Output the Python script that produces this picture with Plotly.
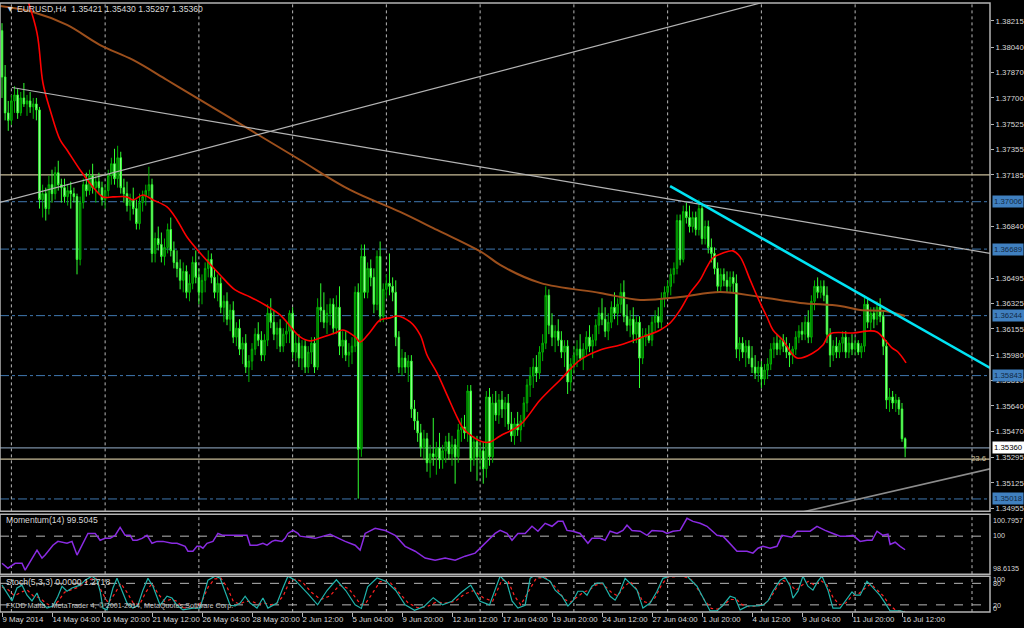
import plotly.graph_objects as go

# ---------------- data ----------------
opens = [1.3815,1.3784,1.3760,1.3755,1.3768,1.3772,1.3760,1.3770,1.3766,1.3768,1.3764,1.3766,1.3762,1.3702,1.3706,1.3696,1.3712,1.3706,1.3720,1.3712,
1.3710,1.3704,1.3708,1.3706,1.3704,1.3662,1.3700,1.3712,1.3708,1.3718,1.3710,1.3714,1.3710,1.3702,1.3708,1.3718,1.3726,1.3716,1.3730,1.3710,
1.3706,1.3698,1.3702,1.3696,1.3686,1.3700,1.3704,1.3708,1.3712,1.3666,1.3676,1.3672,1.3664,1.3670,1.3682,1.3668,1.3660,1.3656,1.3648,1.3654,
1.3640,1.3646,1.3660,1.3650,1.3640,1.3648,1.3656,1.3662,1.3650,1.3640,1.3646,1.3630,1.3634,1.3622,1.3628,1.3610,1.3616,1.3602,1.3606,1.3590,
1.3594,1.3602,1.3612,1.3608,1.3598,1.3608,1.3626,1.3620,1.3612,1.3616,1.3604,1.3612,1.3614,1.3626,1.3600,1.3606,1.3596,1.3604,1.3590,1.3600,
1.3606,1.3590,1.3630,1.3628,1.3620,1.3626,1.3632,1.3616,1.3630,1.3604,1.3608,1.3598,1.3600,1.3604,1.3640,1.3535,1.3664,1.3640,1.3656,1.3650,
1.3632,1.3664,1.3624,1.3642,1.3646,1.3644,1.3640,1.3610,1.3590,1.3596,1.3590,1.3594,1.3562,1.3554,1.3546,1.3536,1.3542,1.3526,1.3532,1.3530,
1.3536,1.3528,1.3534,1.3540,1.3532,1.3538,1.3530,1.3548,1.3550,1.3546,1.3574,1.3528,1.3540,1.3530,1.3534,1.3522,1.3570,1.3530,1.3566,1.3558,
1.3568,1.3562,1.3566,1.3552,1.3544,1.3552,1.3548,1.3554,1.3566,1.3578,1.3584,1.3590,1.3586,1.3600,1.3606,1.3638,1.3618,1.3610,1.3614,1.3608,
1.3600,1.3604,1.3580,1.3592,1.3598,1.3602,1.3596,1.3602,1.3610,1.3604,1.3608,1.3618,1.3626,1.3622,1.3614,1.3620,1.3630,1.3626,1.3632,1.3640,
1.3624,1.3618,1.3622,1.3612,1.3620,1.3596,1.3610,1.3612,1.3608,1.3620,1.3624,1.3620,1.3636,1.3640,1.3644,1.3652,1.3656,1.3688,1.3662,1.3694,
1.3690,1.3684,1.3690,1.3682,1.3696,1.3676,1.3684,1.3670,1.3666,1.3656,1.3644,1.3652,1.3648,1.3644,1.3650,1.3646,1.3602,1.3606,1.3600,1.3604,
1.3596,1.3590,1.3586,1.3590,1.3582,1.3588,1.3592,1.3602,1.3606,1.3602,1.3608,1.3604,1.3600,1.3598,1.3602,1.3610,1.3614,1.3612,1.3620,1.3610,
1.3634,1.3644,1.3640,1.3644,1.3638,1.3612,1.3598,1.3604,1.3600,1.3606,1.3610,1.3600,1.3606,1.3602,1.3606,1.3600,1.3604,1.3632,1.3620,1.3626,
1.3622,1.3630,1.3624,1.3604,1.3568,1.3570,1.3566,1.3568,1.3562,1.35421]
highs = [1.3820,1.3792,1.3768,1.3772,1.3778,1.3776,1.3774,1.3780,1.3772,1.3774,1.3770,1.3770,1.3764,1.3712,1.3710,1.3718,1.3722,1.3724,1.3728,1.3716,
1.3716,1.3712,1.3714,1.3710,1.3706,1.3704,1.3716,1.3720,1.3722,1.3726,1.3718,1.3720,1.3714,1.3712,1.3722,1.3730,1.3736,1.3738,1.3734,1.3716,
1.3714,1.3706,1.3710,1.3702,1.3706,1.3708,1.3712,1.3724,1.3716,1.3680,1.3684,1.3680,1.3676,1.3686,1.3690,1.3674,1.3668,1.3662,1.3660,1.3658,
1.3652,1.3664,1.3668,1.3656,1.3652,1.3660,1.3668,1.3666,1.3656,1.3652,1.3650,1.3638,1.3640,1.3632,1.3634,1.3620,1.3622,1.3610,1.3612,1.3598,
1.3606,1.3616,1.3620,1.3614,1.3612,1.3632,1.3636,1.3628,1.3620,1.3622,1.3616,1.3620,1.3628,1.3630,1.3612,1.3612,1.3608,1.3608,1.3604,1.3610,
1.3610,1.3636,1.3646,1.3640,1.3632,1.3636,1.3636,1.3638,1.3644,1.3614,1.3614,1.3606,1.3610,1.3644,1.3646,1.3672,1.3672,1.3660,1.3662,1.3656,
1.3668,1.3674,1.3646,1.3652,1.3666,1.3650,1.3648,1.3614,1.3602,1.3600,1.3598,1.3598,1.3568,1.3560,1.3552,1.3548,1.3546,1.3538,1.3556,1.3540,
1.3546,1.3538,1.3544,1.3546,1.3544,1.3542,1.3552,1.3556,1.3558,1.3578,1.3578,1.3544,1.3544,1.3540,1.3540,1.3574,1.3576,1.3572,1.3574,1.3572,
1.3574,1.3570,1.3572,1.3560,1.3556,1.3560,1.3558,1.3570,1.3582,1.3590,1.3596,1.3598,1.3604,1.3612,1.3644,1.3642,1.3626,1.3618,1.3622,1.3614,
1.3608,1.3608,1.3596,1.3604,1.3608,1.3612,1.3606,1.3614,1.3618,1.3612,1.3622,1.3630,1.3636,1.3630,1.3626,1.3634,1.3640,1.3636,1.3646,1.3648,
1.3632,1.3628,1.3630,1.3624,1.3624,1.3616,1.3616,1.3618,1.3624,1.3628,1.3630,1.3640,1.3644,1.3648,1.3656,1.3660,1.3692,1.3692,1.3698,1.3700,
1.3698,1.3694,1.3694,1.3702,1.3698,1.3688,1.3688,1.3676,1.3670,1.3660,1.3656,1.3656,1.3654,1.3654,1.3654,1.3652,1.3610,1.3610,1.3608,1.3608,
1.3604,1.3598,1.3594,1.3594,1.3592,1.3596,1.3606,1.3610,1.3612,1.3610,1.3612,1.3610,1.3606,1.3604,1.3614,1.3618,1.3620,1.3624,1.3628,1.3638,
1.3648,1.3650,1.3648,1.3648,1.3644,1.3616,1.3608,1.3610,1.3608,1.3614,1.3614,1.3610,1.3612,1.3610,1.3608,1.3606,1.3638,1.3636,1.3630,1.3630,
1.3634,1.3636,1.3628,1.3608,1.3576,1.3574,1.3572,1.3570,1.3566,1.35430]
lows = [1.3770,1.3755,1.3748,1.3752,1.3760,1.3756,1.3758,1.3764,1.3758,1.3760,1.3756,1.3755,1.3696,1.3690,1.3688,1.3692,1.3700,1.3702,1.3708,1.3700,
1.3700,1.3698,1.3696,1.3700,1.3652,1.3658,1.3696,1.3704,1.3705,1.3706,1.3700,1.3706,1.3698,1.3696,1.3704,1.3712,1.3712,1.3710,1.3706,1.3700,
1.3694,1.3688,1.3692,1.3682,1.3682,1.3694,1.3698,1.3704,1.3660,1.3660,1.3668,1.3660,1.3658,1.3666,1.3664,1.3656,1.3650,1.3642,1.3640,1.3636,
1.3634,1.3642,1.3646,1.3632,1.3632,1.3640,1.3650,1.3646,1.3636,1.3634,1.3626,1.3620,1.3618,1.3614,1.3606,1.3604,1.3598,1.3592,1.3586,1.3580,
1.3588,1.3598,1.3604,1.3594,1.3594,1.3604,1.3616,1.3608,1.3602,1.3600,1.3600,1.3606,1.3606,1.3596,1.3594,1.3590,1.3588,1.3586,1.3586,1.3592,
1.3586,1.3588,1.3620,1.3616,1.3612,1.3618,1.3612,1.3612,1.3598,1.3596,1.3594,1.3590,1.3592,1.3600,1.3502,1.3530,1.3636,1.3636,1.3644,1.3626,
1.3628,1.3620,1.3620,1.3636,1.3638,1.3634,1.3604,1.3586,1.3584,1.3586,1.3580,1.3556,1.3548,1.3540,1.3530,1.3528,1.3520,1.3516,1.3524,1.3518,
1.3522,1.3522,1.3526,1.3528,1.3524,1.3512,1.3526,1.3540,1.3542,1.3540,1.3520,1.3524,1.3514,1.3522,1.3512,1.3516,1.3524,1.3526,1.3554,1.3552,
1.3556,1.3550,1.3548,1.3540,1.3538,1.3544,1.3540,1.3550,1.3560,1.3570,1.3576,1.3580,1.3582,1.3594,1.3602,1.3612,1.3604,1.3600,1.3604,1.3596,
1.3590,1.3572,1.3574,1.3586,1.3590,1.3594,1.3588,1.3598,1.3600,1.3596,1.3604,1.3612,1.3618,1.3610,1.3608,1.3616,1.3622,1.3618,1.3626,1.3620,
1.3614,1.3610,1.3606,1.3606,1.3576,1.3592,1.3604,1.3606,1.3604,1.3614,1.3616,1.3616,1.3630,1.3636,1.3638,1.3646,1.3652,1.3658,1.3660,1.3686,
1.3680,1.3680,1.3678,1.3678,1.3672,1.3672,1.3666,1.3660,1.3652,1.3640,1.3640,1.3644,1.3640,1.3640,1.3640,1.3596,1.3594,1.3596,1.3590,1.3592,
1.3586,1.3582,1.3580,1.3576,1.3578,1.3582,1.3588,1.3596,1.3598,1.3598,1.3600,1.3596,1.3590,1.3592,1.3598,1.3606,1.3608,1.3608,1.3606,1.3606,
1.3628,1.3636,1.3636,1.3634,1.3606,1.3590,1.3594,1.3596,1.3596,1.3600,1.3596,1.3596,1.3598,1.3598,1.3598,1.3596,1.3600,1.3616,1.3614,1.3616,
1.3618,1.3620,1.3598,1.3562,1.3560,1.3562,1.3560,1.3558,1.3540,1.35297]
closes = [1.3784,1.3760,1.3755,1.3768,1.3772,1.3760,1.3770,1.3766,1.3768,1.3764,1.3766,1.3762,1.3702,1.3706,1.3696,1.3712,1.3706,1.3720,1.3712,1.3710,
1.3704,1.3708,1.3706,1.3704,1.3662,1.3700,1.3712,1.3708,1.3718,1.3710,1.3714,1.3710,1.3702,1.3708,1.3718,1.3726,1.3716,1.3730,1.3710,1.3706,
1.3698,1.3702,1.3696,1.3686,1.3700,1.3704,1.3708,1.3712,1.3666,1.3676,1.3672,1.3664,1.3670,1.3682,1.3668,1.3660,1.3656,1.3648,1.3654,1.3640,
1.3646,1.3660,1.3650,1.3640,1.3648,1.3656,1.3662,1.3650,1.3640,1.3646,1.3630,1.3634,1.3622,1.3628,1.3610,1.3616,1.3602,1.3606,1.3590,1.3594,
1.3602,1.3612,1.3608,1.3598,1.3608,1.3626,1.3620,1.3612,1.3616,1.3604,1.3612,1.3614,1.3626,1.3600,1.3606,1.3596,1.3604,1.3590,1.3600,1.3606,
1.3590,1.3630,1.3628,1.3620,1.3626,1.3632,1.3616,1.3630,1.3604,1.3608,1.3598,1.3600,1.3604,1.3640,1.3535,1.3664,1.3640,1.3656,1.3650,1.3632,
1.3664,1.3624,1.3642,1.3646,1.3644,1.3640,1.3610,1.3590,1.3596,1.3590,1.3594,1.3562,1.3554,1.3546,1.3536,1.3542,1.3526,1.3532,1.3530,1.3536,
1.3528,1.3534,1.3540,1.3532,1.3538,1.3530,1.3548,1.3550,1.3546,1.3574,1.3528,1.3540,1.3530,1.3534,1.3522,1.3570,1.3530,1.3566,1.3558,1.3568,
1.3562,1.3566,1.3552,1.3544,1.3552,1.3548,1.3554,1.3566,1.3578,1.3584,1.3590,1.3586,1.3600,1.3606,1.3638,1.3618,1.3610,1.3614,1.3608,1.3600,
1.3604,1.3580,1.3592,1.3598,1.3602,1.3596,1.3602,1.3610,1.3604,1.3608,1.3618,1.3626,1.3622,1.3614,1.3620,1.3630,1.3626,1.3632,1.3640,1.3624,
1.3618,1.3622,1.3612,1.3620,1.3596,1.3610,1.3612,1.3608,1.3620,1.3624,1.3620,1.3636,1.3640,1.3644,1.3652,1.3656,1.3688,1.3662,1.3694,1.3690,
1.3684,1.3690,1.3682,1.3696,1.3676,1.3684,1.3670,1.3666,1.3656,1.3644,1.3652,1.3648,1.3644,1.3650,1.3646,1.3602,1.3606,1.3600,1.3604,1.3596,
1.3590,1.3586,1.3590,1.3582,1.3588,1.3592,1.3602,1.3606,1.3602,1.3608,1.3604,1.3600,1.3598,1.3602,1.3610,1.3614,1.3612,1.3620,1.3610,1.3634,
1.3644,1.3640,1.3644,1.3638,1.3612,1.3598,1.3604,1.3600,1.3606,1.3610,1.3600,1.3606,1.3602,1.3606,1.3600,1.3604,1.3632,1.3620,1.3626,1.3622,
1.3630,1.3624,1.3604,1.3568,1.3570,1.3566,1.3568,1.3562,1.35421,1.35360]

# red (fast) and brown (slow) moving averages, read as (bar, price)
ma_fast_bar = [7.5,11.2,13.1,15.4,18.6,20.8,25.0,29.1,32.3,35.5,40.0,41.9,45.1,48.3,52.8,56.0,59.2,63.4,69.8,74.6,79.4,84.2,89.0,95.4,98.6,
101.8,106.6,109.1,113.0,114.6,117.8,121.0,124.2,126.4,130.6,133.8,136.0,139.2,142.4,145.6,147.5,150.7,153.9,156.2,159.4,165.8,172.2,178.6,
185.0,191.4,197.8,204.2,210.6,213.8,217.0,220.2,223.4,225.6,227.5,230.7,233.9,236.2,239.4,242.6,244.8,246.7,249.8,254.4,259.5,262.7,265.0,
272.3,277.8,280.0,282.6,284.8,286.7,289.3]
ma_fast_val = [1.3840,1.38135,1.37800,1.37620,1.37419,1.37352,1.37218,1.37105,1.37038,1.37038,1.37038,1.37018,1.37051,1.37018,1.36971,1.36884,
1.36770,1.36663,1.36516,1.36416,1.36369,1.36315,1.36249,1.36102,1.36075,1.36095,1.36128,1.36148,1.36102,1.36068,1.36135,1.36215,1.36229,
1.36242,1.36202,1.36115,1.35981,1.35861,1.35714,1.35566,1.35493,1.35433,1.35399,1.35399,1.35439,1.35513,1.35680,1.35814,1.35948,1.36015,
1.36048,1.36095,1.36148,1.36195,1.36282,1.36396,1.36483,1.36570,1.36630,1.36663,1.36677,1.36637,1.36483,1.36329,1.36235,1.36148,1.36081,
1.35961,1.35994,1.36048,1.36122,1.36128,1.36142,1.36135,1.36081,1.36028,1.36001,1.35928]
ma_slow_bar = [-0.6,9.9,20.8,31.4,41.9,52.8,63.4,79.4,95.4,111.4,127.4,139.2,153.9,159.4,172.2,191.4,204.2,217.0,229.8,242.6,255.4,268.2,
274.6,282.6,289.0]
ma_slow_val = [1.38315,1.38275,1.38188,1.38054,1.37954,1.37820,1.37687,1.37486,1.37285,1.37085,1.36938,1.36817,1.36663,1.36583,1.36463,
1.36396,1.36349,1.36369,1.36402,1.36369,1.36329,1.36309,1.36282,1.36275,1.36242]

# Momentum(14), read as (bar, value)
mom_bar = [0,1.9,4.2,6.4,7.4,9,11.2,12.8,13.8,16.3,17.9,20.8,22.4,24,25.6,27.5,29.8,31.4,33,34.6,36.2,37.8,39.4,41,41.9,43.2,44.8,46.4,48,
49.6,51.5,54.4,56,58.6,59.5,61.1,62.4,63.4,64.3,65.6,67.5,69.1,70.7,73.9,78.4,79.4,81.6,83.5,84.8,86.4,87.4,89.6,90.6,91.5,93.1,94.7,
95.4,100.2,105,109.8,113,114.6,116.2,119.4,122.6,125.8,129,132.2,135.4,138.6,141.8,145,148.2,151.4,154.6,157.8,
159.4,161.6,163.2,165.1,167.4,169.6,171.5,173.8,176,177.9,179.5,180.8,182.7,185,187.5,188.8,191.4,193,194.6,196.8,198.7,200,201.6,204.2,
206.4,208,211.5,212.8,214.7,217,219.2,221.1,223.4,225.6,228.8,230.7,232.3,235.2,238.4,240.3,241.9,243.5,245.8,248,249.6,252.8,254.4,
258.6,260.8,263.4,265.9,268.2,270.4,272.3,274.6,276.8,278.4,280,281.9,283.5,284.2,285.8,287.4,289]
mom_val = [99.01,98.83,99.01,99.01,98.76,99.09,99.49,99.20,99.31,99.67,99.81,99.74,99.81,99.31,99.67,100.10,100.10,99.85,99.92,99.92,100.03,
100.32,100.03,100.03,99.85,99.85,99.92,100.03,99.74,99.81,99.81,99.74,99.74,99.63,99.45,99.45,99.63,99.63,99.56,99.74,99.81,100.10,100.03,
100.03,100.03,99.67,99.67,99.74,99.67,99.81,99.85,99.81,99.92,100.10,100.21,100.10,
100.00,99.92,100.07,99.81,99.67,99.49,100.10,100.29,100.21,100.03,99.63,99.45,99.20,99.12,99.20,99.12,99.27,99.38,99.74,100.10,
100.21,100.10,99.85,100.10,100.10,100.36,100.18,100.47,100.36,100.54,100.54,100.21,100.18,100.10,99.74,99.92,99.92,99.85,100.18,100.10,
100.21,100.40,100.21,100.18,100.03,100.21,100.18,100.10,100.18,100.21,100.65,100.54,100.47,100.36,100.03,100.00,99.81,99.45,99.45,99.38,
99.56,99.63,99.56,99.63,100.03,99.96,100.18,100.18,100.36,100.21,100.10,100.00,100.00,100.03,99.81,99.85,99.85,100.18,100.03,100.07,
99.70,99.78,99.63,99.5045]

# Stochastic(5,3,3): main and signal, read as (bar, value)
stoch_bar = [0,1.6,3.2,4.8,6.4,8,9.6,11.2,12.2,14.4,16.3,17.9,19.2,20.8,22.4,25,26.6,28.8,30.4,31.4,32.3,33.6,35.5,36.8,38.4,40,41.9,43.5,
45.1,46.7,48.3,50.6,52.8,54.4,56,57.9,61.1,63.4,65.9,68.2,69.8,71.4,73,74.6,76.2,77.8,79.4,81.6,83.5,85.1,88,89.9,91.5,93.8,95.4,
98,101,104,107,110,113,115,117,120,123,126,129,132,135,138,141,144,147,150,153,156,
159.4,161.6,163.2,165.1,167.4,169,170,173.1,175.4,177,179.2,181.1,182.7,184.3,185.9,187.2,188.8,190.4,192.3,194.6,196.2,197.8,199.4,
201,203.2,205.1,207.4,209.6,211.5,213.8,217,219.2,222.4,224.3,226.6,228.8,230.7,233,234.6,236.2,238.7,241.6,243.5,245.1,246.7,249,
250.6,252.2,253.1,254.7,256.3,257.9,259.5,261.1,262.4,264.3,265.9,268.2,270.4,272,273,274.6,276.8,278.7,280.9,282.6,284.2,287.4,289]
stoch_main = [75,53,31,67,75,47,31,53,31,11,17,44,72,58,67,75,89,100,89,58,11,6,67,94,58,25,11,19,61,94,72,19,44,39,19,6,11,11,89,100,94,
58,19,17,25,44,25,11,39,11,25,67,100,89,75,
50,20,60,90,60,20,10,70,95,85,60,20,5,15,40,20,30,55,75,30,20,
100,81,31,11,19,94,100,97,86,61,44,17,31,58,58,47,72,81,81,44,33,58,94,81,61,11,25,58,94,100,100,100,72,39,3,3,19,44,39,6,17,17,19,31,
58,89,97,72,39,58,100,72,61,86,100,61,11,11,39,56,47,47,86,67,47,25,3,3,0]
sig_bar = [0,2,4,6,8,10,12,14,16,18,20,22,24,26,28,30,32,34,36,38,40,42,44,46,48,50,52,54,56,58,62,64,66,68,70,72,74,76,78,80,82,84,86,
88,90,92,94,96,99,102,105,108,111,114,116,118,121,124,127,130,133,136,139,142,145,148,151,154,157,160,162,164,166,168,171,174,176,178,
180,182,184,186,188,190,192,195,197,199,201,203,205,207,209,211,213,218,221,223,225,227,229,231,233,235,237,239,242,244,246,248,250,
252,254,256,258,260,262,264,266,268,270,272,274,276,278,280,282,284,286,289]
sig_val = [70,62,45,55,62,45,40,25,15,30,55,62,68,78,90,95,55,25,50,80,55,25,20,55,80,50,30,35,30,12,10,30,70,92,95,70,30,22,30,30,22,
25,20,25,45,85,92,85,55,35,45,75,65,30,20,45,85,85,55,25,12,15,28,25,30,50,60,40,30,90,85,45,20,50,95,95,80,60,35,28,42,55,62,75,80,
55,45,70,85,65,30,25,40,75,97,100,88,60,30,10,8,20,35,35,20,15,17,22,40,70,88,80,60,75,85,75,88,75,40,20,25,45,50,65,78,62,45,20,5,
1.2718]

# drawn objects: (bar, price) anchor points
up_line_bar = [-1, 250]
up_line_val = [1.3700, 1.38375]
down_line_bar = [3.2, 316.2]
down_line_val = [1.3777, 1.3666]
cyan_line_bar = [213.8, 316.2]
cyan_line_val = [1.37111, 1.35894]
low_line_bar = [250, 316.2]
low_line_val = [1.34901, 1.35219]
blue_levels = [1.37006, 1.36689, 1.36244, 1.35843, 1.35018]
tan_level = 1.37185
fibo_level = 1.35285
bid_level = 1.35360

price_ticks = [1.38215,1.38040,1.37870,1.37700,1.37525,1.37355,1.37185,1.36840,1.36495,1.36325,1.36155,
               1.35980,1.35810,1.35640,1.35470,1.35295,1.35125,1.34955]
date_tick_bars = [0,16,32,48,64,80,96,112,128,144,160,176,192,208,224,240,256,272,288]
date_tick_text = ["9 May 2014","14 May 04:00","16 May 20:00","21 May 12:00","26 May 04:00","28 May 20:00","2 Jun 12:00",
                  "5 Jun 04:00","9 Jun 20:00","12 Jun 12:00","17 Jun 04:00","19 Jun 20:00","24 Jun 12:00","27 Jun 04:00",
                  "1 Jul 20:00","4 Jul 12:00","9 Jul 04:00","11 Jul 20:00","16 Jul 12:00"]
week_grid_bars = [3,33,63,93,123,153,183,213,243,273,310.4]

# ---------------- figure ----------------
W, H = 1024, 628
R = 34
def py(px):  # paper y from pixel row
    return 1 - px / H

FONT = "Liberation Sans"
TXT = "#d8d8d8"
n = len(closes)
bars = list(range(n))

fig = go.Figure()
fig.add_trace(go.Candlestick(
    x=bars, open=opens, high=highs, low=lows, close=closes, xaxis="x", yaxis="y",
    increasing=dict(line=dict(color="#00b400", width=1), fillcolor="#005c00"),
    decreasing=dict(line=dict(color="#30ff30", width=1), fillcolor="#d0ffd0"),
    whiskerwidth=0, showlegend=False, hoverinfo="skip"))

fig.add_trace(go.Scatter(x=ma_slow_bar, y=ma_slow_val, mode="lines", line=dict(color="#9c4f1c", width=2, shape="spline"),
                         xaxis="x", yaxis="y", showlegend=False, hoverinfo="skip"))
fig.add_trace(go.Scatter(x=ma_fast_bar, y=ma_fast_val, mode="lines", line=dict(color="#ff0000", width=1.6, shape="spline"),
                         xaxis="x", yaxis="y", showlegend=False, hoverinfo="skip"))
for bx, vy, col, wd in [(up_line_bar, up_line_val, "#b4b4b4", 1.2), (down_line_bar, down_line_val, "#b4b4b4", 1.2),
                        (low_line_bar, low_line_val, "#8c8c8c", 1.6), (cyan_line_bar, cyan_line_val, "#00e4f4", 2.6)]:
    fig.add_trace(go.Scatter(x=bx, y=vy, mode="lines", line=dict(color=col, width=wd), xaxis="x", yaxis="y",
                             showlegend=False, hoverinfo="skip"))

fig.add_trace(go.Scatter(x=mom_bar, y=mom_val, mode="lines", line=dict(color="#8a2be2", width=1.5),
                         xaxis="x", yaxis="y2", showlegend=False, hoverinfo="skip"))
fig.add_trace(go.Scatter(x=sig_bar, y=sig_val, mode="lines", line=dict(color="#ff2020", width=1.2, dash="dot"),
                         xaxis="x", yaxis="y3", showlegend=False, hoverinfo="skip"))
fig.add_trace(go.Scatter(x=stoch_bar, y=stoch_main, mode="lines", line=dict(color="#20b2aa", width=1.2),
                         xaxis="x", yaxis="y3", showlegend=False, hoverinfo="skip"))

shapes = []
dom_price = [py(513), py(3)]
dom_mom = [py(576), py(516)]
dom_sto = [py(614), py(578)]
# weekly dotted grid
for b in week_grid_bars:
    for d in (dom_price, dom_mom, dom_sto):
        shapes.append(dict(type="line", xref="x", yref="paper", x0=b, x1=b, y0=d[0], y1=d[1],
                           line=dict(color="#b8b8b8", width=1, dash="dot"), layer="below"))
# horizontal levels
for lv in blue_levels:
    shapes.append(dict(type="line", xref="paper", yref="y", x0=0, x1=1, y0=lv, y1=lv,
                       line=dict(color="#3f78b0", width=1, dash="dashdot"), layer="below"))
shapes.append(dict(type="line", xref="paper", yref="y", x0=0, x1=1, y0=tan_level, y1=tan_level,
                   line=dict(color="#c8bc98", width=1.2), layer="below"))
shapes.append(dict(type="line", xref="paper", yref="y", x0=0, x1=1, y0=fibo_level, y1=fibo_level,
                   line=dict(color="#c8bc98", width=1.2), layer="below"))
shapes.append(dict(type="line", xref="paper", yref="y", x0=0, x1=1, y0=bid_level, y1=bid_level,
                   line=dict(color="#7a8ea4", width=1.2), layer="below"))
# indicator levels
shapes.append(dict(type="line", xref="paper", yref="y2", x0=0, x1=1, y0=100, y1=100,
                   line=dict(color="#b8b8b8", width=1, dash="dash"), layer="below"))
for lv in (80, 20):
    shapes.append(dict(type="line", xref="paper", yref="y3", x0=0, x1=1, y0=lv, y1=lv,
                       line=dict(color="#b8b8b8", width=1, dash="dash"), layer="below"))
# panel frames
for d in (dom_price, dom_mom, dom_sto):
    shapes.append(dict(type="rect", xref="paper", yref="paper", x0=0, x1=1, y0=d[0], y1=d[1],
                       line=dict(color="#b4b4b4", width=1.5), fillcolor="rgba(0,0,0,0)", layer="above"))

ann = []
def label(text, x, y, xref="paper", yref="paper", xanchor="left", color=TXT, size=7.8):
    ann.append(dict(text=text, x=x, y=y, xref=xref, yref=yref, xanchor=xanchor, yanchor="middle", showarrow=False,
                    font=dict(family=FONT, size=size, color=color)))

label("\u25bc EURUSD,H4  1.35421 1.35430 1.35297 1.35360", 4 / (W - R), py(9), size=8.6)
label("Momentum(14) 99.5045", 4 / (W - R), py(522), size=8.6)
label("Stoch(5,3,3) 0.0000 1.2718", 4 / (W - R), py(584), size=8.6)
label("FXDD Malta - MetaTrader 4, \u00a9 2001-2014, MetaQuotes Software Corp.", 4 / (W - R), py(607),
      color="#c8c8c8", size=7.2)
label("23.6", 988 / (W - R), fibo_level + 0.00005, yref="y", xanchor="right", color="#c8bc98")
for lv in blue_levels:
    ann.append(dict(text=f"{lv:.5f}", x=1, y=lv, xref="paper", yref="y", xanchor="left", yanchor="middle", xshift=2,
                    showarrow=False, bgcolor="#4080c0", borderpad=1, font=dict(family=FONT, size=7.8, color="#132a44")))
ann.append(dict(text=f"{bid_level:.5f}", x=1, y=bid_level, xref="paper", yref="y", xanchor="left", yanchor="middle",
                xshift=2, showarrow=False, bgcolor="#ffffff", borderpad=1, font=dict(family=FONT, size=7.8, color="#000000")))
for t, ypx in [("100.7957", 522), ("100", 537), ("98.6135", 570), ("100", 581), ("80", 585), ("20", 607), ("0", 610)]:
    ann.append(dict(text=t, x=1, y=py(ypx), xref="paper", yref="paper", xanchor="left", yanchor="middle", xshift=1,
                    showarrow=False, font=dict(family=FONT, size=7.2, color=TXT)))

fig.update_layout(
    width=W, height=H, margin=dict(l=0, r=R, t=0, b=0),
    paper_bgcolor="#000000", plot_bgcolor="#000000", showlegend=False,
    shapes=shapes, annotations=ann,
    xaxis=dict(domain=[0, 1], range=[-0.64, 316.16], anchor="y3", showgrid=False, zeroline=False,
               tickvals=date_tick_bars, ticktext=date_tick_text, ticks="outside", ticklen=4, tickcolor="#b4b4b4",
               ticklabelposition="outside right", tickangle=0, tickfont=dict(family=FONT, size=7.8, color=TXT),
               rangeslider=dict(visible=False), showline=False, fixedrange=True),
    yaxis=dict(domain=dom_price, range=[1.34935, 1.38335], side="right", anchor="x", showgrid=False, zeroline=False,
               tickvals=price_ticks, ticktext=[f"{v:.5f}" for v in price_ticks], ticks="outside", ticklen=3,
               tickcolor="#b4b4b4", tickfont=dict(family=FONT, size=7.8, color=TXT), fixedrange=True),
    yaxis2=dict(domain=dom_mom, range=[98.6135, 100.7957], side="right", anchor="x", showgrid=False, zeroline=False,
                showticklabels=False, ticks="", fixedrange=True),
    yaxis3=dict(domain=dom_sto, range=[0, 100], side="right", anchor="x", showgrid=False, zeroline=False,
                showticklabels=False, ticks="", fixedrange=True),
)

fig.write_html("out.html", config={"displayModeBar": False, "staticPlot": True},
               post_script="document.body.style.margin='0px';document.body.style.padding='0px';document.body.style.background='#000';")
